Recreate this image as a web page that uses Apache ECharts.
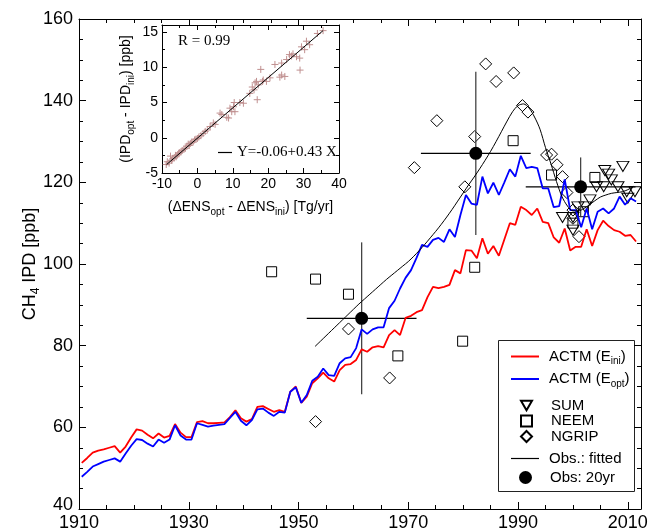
<!DOCTYPE html>
<html>
<head>
<meta charset="utf-8">
<title>CH4 IPD</title>
<script src="https://cdn.jsdelivr.net/npm/echarts@6/dist/echarts.min.js"></script>
<style>
  html, body { margin: 0; padding: 0; background: #fff; }
  #main { width: 651px; height: 532px; }
</style>
</head>
<body>
<div id="main"></div>
<script>
// model runs, one value per year starting at firstYear
const firstYear = 1910;
const actmIni = [
  51.3, 52.5, 53.8, 54.3, 54.6, 55.0, 55.4, 53.8, 55.3, 57.5,
  59.5, 59.2, 58.2, 57.3, 58.5, 57.5, 57.9, 60.8, 58.7, 57.6,
  57.6, 61.3, 61.5, 61.0, 61.0, 61.1, 61.2, 62.5, 64.2, 62.2,
  61.4, 62.0, 65.0, 65.2, 64.5, 63.8, 64.2, 63.8, 68.7, 70.0,
  66.0, 67.5, 70.8, 72.0, 73.4, 72.0, 71.2, 74.0, 75.3, 75.5,
  76.5, 79.1, 78.5, 79.6, 79.9, 79.6, 82.6, 83.8, 82.6, 86.8,
  87.3, 88.2, 88.7, 91.9, 94.4, 94.1, 94.4, 94.9, 98.5, 97.7,
  103.4, 103.3, 101.4, 106.3, 102.5, 104.4, 102.0, 106.0, 110.0, 109.6,
  114.0, 113.2, 112.0, 113.6, 110.3, 110.0, 106.5, 105.2, 108.7, 103.3,
  104.2, 104.2, 108.5, 104.4, 108.3, 110.6, 109.3, 108.3, 107.9, 106.9,
  107.1, 105.5
];
const actmOpt = [
  47.9, 49.1, 50.4, 51.0, 51.6, 52.0, 52.4, 51.6, 53.6, 55.5,
  57.1, 56.9, 56.0, 55.3, 57.0, 56.2, 57.0, 60.5, 58.0, 57.0,
  57.0, 61.0, 60.6, 60.2, 60.4, 60.6, 60.8, 62.3, 63.8, 61.6,
  60.5, 61.8, 64.4, 64.6, 63.6, 62.8, 63.8, 63.6, 68.7, 69.8,
  66.0, 67.9, 71.4, 72.4, 74.4, 72.8, 72.6, 75.7, 76.9, 77.2,
  79.4, 84.0, 82.9, 84.0, 84.5, 84.5, 89.2, 91.0, 94.0, 96.6,
  98.5, 101.5, 104.7, 104.2, 105.9, 106.4, 105.4, 108.5, 106.6, 112.0,
  116.9, 114.8, 114.5, 121.4, 117.3, 119.9, 116.9, 120.0, 123.2, 121.4,
  126.5, 123.5, 123.8, 123.5, 118.5, 118.5, 113.9, 114.2, 120.7, 113.2,
  113.2, 109.0, 113.6, 108.5, 112.8, 113.6, 112.4, 113.6, 116.5, 114.5,
  116.1, 115.3
];

// smooth fit to observations, one value per year from fitStart
const fitStart = 1953;
const obsFitted = [
  79.8, 81.1, 82.4, 83.7, 85.0, 86.3, 87.6,
  88.9, 90.2, 91.4, 92.6, 93.8, 95.0, 96.2, 97.3, 98.4, 99.5,
  100.6, 101.9, 103.3, 104.8, 106.4, 108.0, 109.7, 111.5, 113.4, 115.4,
  117.4, 119.4, 121.3, 123.3, 125.4, 127.6, 130.0, 132.5, 135.0, 137.3,
  138.8, 139.2, 138.2, 136.0, 133.0, 128.5, 124.5, 120.2, 116.5, 114.2,
  113.0, 113.0, 113.6, 114.5, 115.5, 116.4, 116.9, 117.3, 117.5, 117.7,
  118.2, 119.0
];

// ice core / firn samples [year, ppb]
const sumPts = [
  [2009.1, 123.9], [2005.8, 122.9], [2007.0, 120.6], [2004.3, 118.9], [2005.6, 118.9],
  [2008.2, 118.9], [2009.8, 117.7], [2011.3, 117.7], [2010.0, 116.1], [2003.1, 115.7],
  [2002.2, 114.0], [2000.9, 114.0], [1998.1, 111.4], [2000.0, 111.4], [2000.0, 108.3],
  [2006.5, 122.0]
];
const neemPts = [
  [1945.1, 98.1], [1953.1, 96.3], [1959.1, 92.6], [1968.1, 77.5], [1979.9, 81.1],
  [1982.1, 99.2], [1989.1, 130.2], [1996.1, 121.8], [2004.0, 121.2], [2001.9, 112.8],
  [2000.0, 110.0]
];
const ngripPts = [
  [1953.1, 61.4], [1959.1, 84.1], [1966.6, 72.1], [1971.1, 123.6], [1975.2, 135.1],
  [1980.3, 118.9], [1982.1, 131.2], [1984.1, 149.0], [1986.0, 144.7], [1989.2, 146.8],
  [1990.8, 138.8], [1991.8, 137.2], [1995.2, 126.7], [1996.1, 126.9], [1997.1, 124.3],
  [1998.1, 121.4], [1998.9, 117.5], [2000.0, 113.2], [2000.0, 111.2], [2001.1, 106.7]
];

// 20-year observation means with errors
const obsYears = [1961.5, 1982.3, 2001.4];
const obsValues = [86.7, 127.1, 118.9];
const obsYearErr = [10, 10, 10];
const obsValErr = [18.6, 20, 7.2];

// inset: emission change vs IPD change
const insetX = [-8.8,-8.5,-8.0,-7.6,-7.3,-7.0,-6.6,-6.2,-6.0,-5.6,-5.3,-5.0,-4.6,-4.3,-3.8,-3.4,-3.0,-2.6,-2.3,-2.0,
  -1.6,-1.2,-0.8,-0.4,0.0,0.4,1.0,1.6,2.2,2.8,3.6,4.5,5.0,6.4,6.9,8.3,8.8,9.2,9.7,10.2,
  10.4,10.6,12.0,13.0,14.8,15.5,16.0,16.3,16.7,16.9,17.2,17.9,18.4,18.6,19.5,20.5,21.9,23.3,23.8,23.8,
  24.7,25.2,26.0,26.6,27.0,28.0,28.9,29.0,29.4,30.3,30.8,31.7,33.9,35.5];
const insetY = [-3.8,-3.4,-3.6,-2.6,-3.2,-3.0,-2.9,-2.5,-2.7,-2.4,-2.2,-2.1,-2.0,-1.8,-1.6,-1.5,-1.2,-0.9,-1.1,-0.8,
  -0.6,-0.6,-0.3,-0.2,-0.1,0.1,0.3,0.6,0.9,1.1,1.6,2.1,1.9,3.5,3.3,2.9,2.8,4.2,3.7,4.4,
  5.0,3.7,5.0,4.9,6.3,7.2,6.8,7.8,8.0,5.4,7.5,9.7,8.0,8.2,8.0,8.5,10.4,8.6,8.9,10.6,
  8.7,11.1,11.8,11.6,11.9,11.5,11.3,9.6,12.9,12.5,13.7,13.2,14.8,15.2];
const regCoef = [-0.06, 0.43];
const regRange = [-8.7, 35.5];

const FONT = 'Liberation Sans';
const SERIF = 'Liberation Serif';
const sub = (s) => s.replace(/_(\w+)/g, '{s|$1}');
const subRich = (size) => ({ s: { fontSize: size, fontFamily: FONT, color: '#000', padding: [size, 0, 0, 0] } });

function axis(o) {
  return Object.assign({
    type: 'value',
    axisLine: { show: true, onZero: false, lineStyle: { color: '#000', width: 1 } },
    axisTick: { show: true, inside: true, length: 7, lineStyle: { color: '#000', width: 1 } },
    axisLabel: { show: false },
    splitLine: { show: false }
  }, o);
}
const minorTick = (len) => ({ show: true, inside: true, length: len, lineStyle: { color: '#000', width: 1 } });
const noLine = { show: false, onZero: false };

const mainX = { gridIndex: 0, min: 1910, max: 2012.4 };
const mainY = { gridIndex: 0, min: 40, max: 160 };
const insX = { gridIndex: 1, min: -10, max: 40 };
const insY = { gridIndex: 1, min: -5, max: 16 };

const legendText = { fontSize: 15, color: '#000', fontFamily: FONT, padding: [0, 0, 0, 5] };

const chart = echarts.init(document.getElementById('main'));
chart.setOption({
  animation: false,
  backgroundColor: '#fff',
  textStyle: { fontFamily: FONT },
  grid: [
    { left: 79, top: 19, width: 562, height: 490, outerBoundsMode: 'none' },
    { left: 162, top: 25, width: 177, height: 148, show: true, backgroundColor: '#fff', borderWidth: 0, outerBoundsMode: 'none', z: 5 }
  ],
  xAxis: [
    axis(Object.assign({}, mainX, { interval: 20, position: 'bottom',
      axisLabel: { show: true, fontSize: 18, color: '#000', fontFamily: FONT, margin: 5, showMaxLabel: false,
        formatter: (v) => String(v) } })),
    axis(Object.assign({}, mainX, { interval: 5, position: 'bottom', axisLine: noLine, axisTick: minorTick(4) })),
    axis(Object.assign({}, mainX, { interval: 20, position: 'top' })),
    axis(Object.assign({}, mainX, { interval: 5, position: 'top', axisLine: noLine, axisTick: minorTick(4) })),
    axis(Object.assign({}, insX, { interval: 10, position: 'bottom', z: 6,
      axisTick: { show: true, inside: true, length: 5, lineStyle: { color: '#000' } },
      minorTick: { show: true, splitNumber: 2, length: 3, lineStyle: { color: '#000' } },
      axisLabel: { show: true, fontSize: 14, color: '#000', fontFamily: FONT, margin: 4 },
      name: sub('(\u0394ENS_opt - \u0394ENS_ini) [Tg/yr]'), nameLocation: 'middle', nameGap: 24,
      nameTextStyle: { fontSize: 14, color: '#000', fontFamily: FONT, rich: subRich(10) } })),
    axis(Object.assign({}, insX, { interval: 10, position: 'top', z: 6,
      axisTick: { show: true, inside: true, length: 5, lineStyle: { color: '#000' } },
      minorTick: { show: true, splitNumber: 2, length: 3, lineStyle: { color: '#000' } } }))
  ],
  yAxis: [
    axis(Object.assign({}, mainY, { interval: 20, position: 'left',
      minorTick: { show: true, splitNumber: 4, length: 4, lineStyle: { color: '#000' } },
      axisLabel: { show: true, fontSize: 18, color: '#000', fontFamily: FONT, margin: 6,
        formatter: (v) => v === 40 ? '{lo|40}' : String(v),
        rich: { lo: { fontSize: 18, fontFamily: FONT, color: '#000', padding: [0, 0, 8, 0] } } },
      name: sub('CH_4 IPD [ppb]'), nameLocation: 'middle', nameRotate: 90, nameGap: 37, nameMoveOverlap: false,
      nameTextStyle: { fontSize: 18, color: '#000', fontFamily: FONT, rich: subRich(12) } })),
    axis(Object.assign({}, mainY, { interval: 20, position: 'right',
      minorTick: { show: true, splitNumber: 4, length: 4, lineStyle: { color: '#000' } } })),
    axis(Object.assign({}, insY, { interval: 5, position: 'left', z: 6,
      axisTick: { show: true, inside: true, length: 5, lineStyle: { color: '#000' } },
      axisLabel: { show: true, fontSize: 14, color: '#000', fontFamily: FONT, margin: 4, showMaxLabel: false },
      name: sub('(IPD_opt - IPD_ini) [ppb]'), nameLocation: 'middle', nameRotate: 90, nameGap: 26,
      nameTextStyle: { fontSize: 14, color: '#000', fontFamily: FONT, rich: subRich(10) } })),
    axis(Object.assign({}, insY, { interval: 2.5, position: 'left', z: 6, axisLine: noLine, axisTick: minorTick(3) })),
    axis(Object.assign({}, insY, { interval: 5, position: 'right', z: 6,
      axisTick: { show: true, inside: true, length: 5, lineStyle: { color: '#000' } } })),
    axis(Object.assign({}, insY, { interval: 2.5, position: 'right', z: 6, axisLine: noLine, axisTick: minorTick(3) }))
  ],
  legend: [
    { data: ['ACTM (E_ini)', 'ACTM (E_opt)'], orient: 'vertical', left: 506, top: 344, icon: 'rect',
      itemWidth: 28, itemHeight: 2, itemGap: 5, selectedMode: false, formatter: sub,
      textStyle: Object.assign({ rich: subRich(10) }, legendText) },
    { data: ['SUM', 'NEEM', 'NGRIP'], orient: 'vertical', left: 515, top: 393,
      itemWidth: 11, itemHeight: 11, itemGap: 0.5, selectedMode: false,
      textStyle: Object.assign({}, legendText, { padding: [0, 0, 0, 14] }) },
    { data: ['Obs.: fitted'], left: 506, top: 446, icon: 'rect', itemWidth: 28, itemHeight: 1.2, selectedMode: false,
      textStyle: legendText },
    { data: ['Obs: 20yr'], left: 514, top: 465, itemWidth: 13, itemHeight: 13, selectedMode: false,
      textStyle: Object.assign({}, legendText, { padding: [0, 0, 0, 13] }) },
    { data: ['Y=-0.06+0.43 X'], left: 213, top: 140, icon: 'rect', itemWidth: 14, itemHeight: 1.2, selectedMode: false, z: 7,
      textStyle: { fontSize: 15, color: '#000', fontFamily: SERIF } }
  ],
  graphic: [
    { type: 'rect', left: 498, top: 340, z: -1, shape: { width: 136, height: 151 },
      style: { fill: '#fff', stroke: '#222', lineWidth: 1 } },
    { type: 'text', left: 178, top: 34, z: 100,
      style: { text: 'R = 0.99', font: '15px "Liberation Serif"', fill: '#000' } }
  ],
  series: [
    { name: 'ACTM (E_ini)', type: 'line', xAxisIndex: 0, yAxisIndex: 0, symbol: 'none',
      lineStyle: { color: '#ff0000', width: 1.8 }, itemStyle: { color: '#ff0000' },
      data: actmIni.map((v, i) => [firstYear + i + 0.5, v]) },
    { name: 'ACTM (E_opt)', type: 'line', xAxisIndex: 0, yAxisIndex: 0, symbol: 'none',
      lineStyle: { color: '#0000ff', width: 1.8 }, itemStyle: { color: '#0000ff' },
      data: actmOpt.map((v, i) => [firstYear + i + 0.5, v]) },
    { name: 'Obs.: fitted', type: 'line', xAxisIndex: 0, yAxisIndex: 0, symbol: 'none', smooth: 0.3,
      lineStyle: { color: '#000', width: 1 }, itemStyle: { color: '#000' },
      data: obsFitted.map((v, i) => [fitStart + i, v]) },
    { name: 'SUM', type: 'scatter', xAxisIndex: 0, yAxisIndex: 0, symbol: 'path://M0,0L10,0L5,8.66Z', symbolSize: [12, 10],
      itemStyle: { color: 'rgba(0,0,0,0)', borderColor: '#000', borderWidth: 1, opacity: 1 }, data: sumPts },
    { name: 'NEEM', type: 'scatter', xAxisIndex: 0, yAxisIndex: 0, symbol: 'rect', symbolSize: 10,
      itemStyle: { color: 'rgba(0,0,0,0)', borderColor: '#000', borderWidth: 1, opacity: 1 }, data: neemPts },
    { name: 'NGRIP', type: 'scatter', xAxisIndex: 0, yAxisIndex: 0, symbol: 'diamond', symbolSize: 12,
      itemStyle: { color: 'rgba(0,0,0,0)', borderColor: '#000', borderWidth: 1, opacity: 1 }, data: ngripPts },
    { type: 'custom', xAxisIndex: 0, yAxisIndex: 0, z: 3,
      data: obsYears.map((y, i) => [y, obsValues[i], obsYearErr[i], obsValErr[i]]),
      encode: { x: 0, y: 1 },
      renderItem: function (params, api) {
        const x = api.value(0), y = api.value(1), dx = api.value(2), dy = api.value(3);
        const l = api.coord([x - dx, y]), r = api.coord([x + dx, y]);
        const t = api.coord([x, y + dy]), b = api.coord([x, y - dy]);
        return { type: 'group', children: [
          { type: 'line', shape: { x1: l[0], y1: l[1], x2: r[0], y2: r[1] }, style: { stroke: '#000', lineWidth: 1.3 } },
          { type: 'line', shape: { x1: t[0], y1: t[1], x2: b[0], y2: b[1] }, style: { stroke: '#444', lineWidth: 1.3 } }
        ] };
      } },
    { name: 'Obs: 20yr', type: 'scatter', xAxisIndex: 0, yAxisIndex: 0, symbol: 'circle', symbolSize: 13, z: 4,
      itemStyle: { color: '#000', opacity: 1 }, data: obsYears.map((y, i) => [y, obsValues[i]]) },
    { type: 'scatter', xAxisIndex: 4, yAxisIndex: 2, symbol: 'path://M4,0L4,8M0,4L8,4', symbolSize: 7, z: 6,
      itemStyle: { color: 'rgba(0,0,0,0)', borderColor: '#c09090', borderWidth: 1, opacity: 1 },
      data: insetX.map((x, i) => [x, insetY[i]]) },
    { name: 'Y=-0.06+0.43 X', type: 'line', xAxisIndex: 4, yAxisIndex: 2, symbol: 'none', z: 7,
      lineStyle: { color: '#000', width: 1 }, itemStyle: { color: '#000' },
      data: regRange.map((x) => [x, regCoef[0] + regCoef[1] * x]) }
  ]
});
</script>
</body>
</html>
